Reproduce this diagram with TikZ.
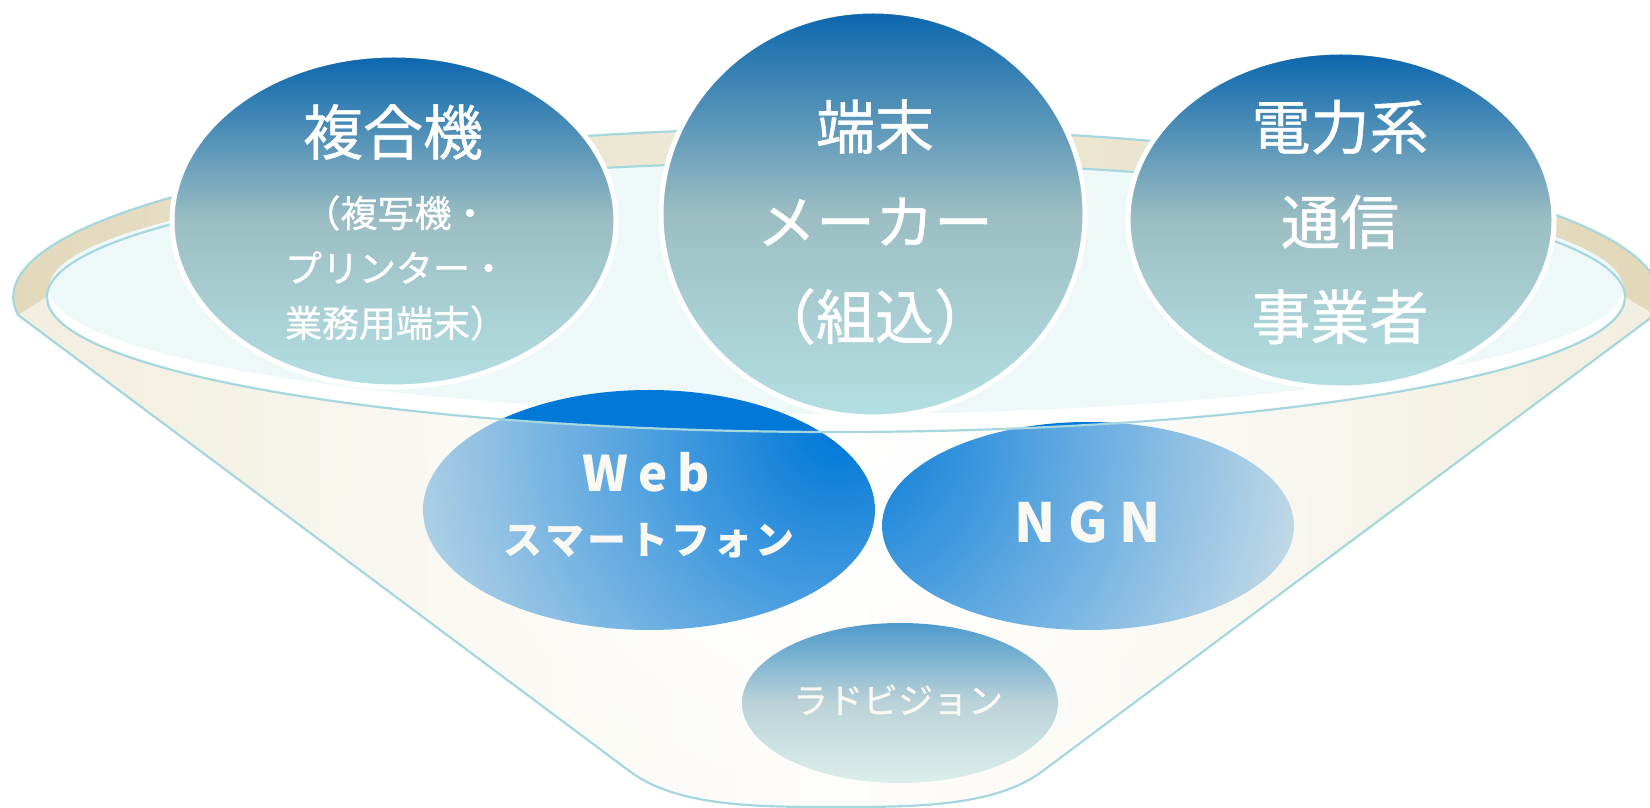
\documentclass[tikz,border=0pt]{standalone}
\usepackage{fontspec}
\setmainfont{Noto Sans CJK JP}
\newfontfamily\jpmed{Noto Sans CJK JP}[FakeBold=0.8]
\usetikzlibrary{shapes.geometric,fadings}

\definecolor{blueTop}{HTML}{0B66AD}
\definecolor{blueMid}{HTML}{9CBEC3}
\definecolor{blueBot}{HTML}{B4DFE2}
\definecolor{webBlue}{HTML}{0078D7}
\definecolor{rimLine}{HTML}{A6D7DF}
\definecolor{innerFill}{HTML}{EEF8F8}
\definecolor{bandEdge}{HTML}{D3C498}
\definecolor{bandMid}{HTML}{F0ECDB}
\definecolor{bodyA}{HTML}{D6C89F}
\definecolor{bodyB}{HTML}{E0D4B2}
\definecolor{bodyC}{HTML}{F2EEE0}
\definecolor{bodyD}{HTML}{FCFBF7}
\definecolor{radTop}{HTML}{4E9ACC}
\definecolor{radMid}{HTML}{BBD3D8}
\definecolor{radBot}{HTML}{DCEEEA}
\definecolor{labelWhite}{HTML}{FAF8F2}

\pgfdeclarehorizontalshading{bodyshade}{100bp}{color(0bp)=(bodyA); color(10bp)=(bodyB); color(25bp)=(bodyC); color(50bp)=(bodyD); color(75bp)=(bodyC); color(90bp)=(bodyB); color(100bp)=(bodyA)}
\pgfdeclarehorizontalshading{bandshade}{100bp}{color(0bp)=(bandEdge); color(50bp)=(bandMid); color(100bp)=(bandEdge)}
\tikzfading[name=bodyfade, inner color=transparent!100, outer color=transparent!0]

\begin{document}
\begin{tikzpicture}[x=1pt,y=1pt,
  blob/.style={ellipse, fill=webBlue, draw=none, inner sep=0pt, outer sep=0pt},
  topblob/.style={ellipse, draw=white, line width=5pt, top color=blueTop, bottom color=blueBot, middle color=blueMid, inner sep=0pt},
  radblob/.style={ellipse, draw=none, top color=radTop, bottom color=radBot, middle color=radMid, inner sep=0pt},
  toptext/.style={text=white, inner sep=0pt},
  wtext/.style={text=labelWhite, inner sep=0pt},
  radtext/.style={text=labelWhite, inner sep=0pt},
  rim/.style={draw=rimLine, line width=2.2pt}]
\useasboundingbox (0,0) rectangle (1650,808);

% rim band (upper part of outer ellipse down to the inner lower arc)
\shade[shading=bandshade] (18,493)
  arc[start angle=186.1, end angle=-6.1, x radius=823, y radius=169]
  -- (1625,511) arc[start angle=0, end angle=-180, x radius=789, y radius=135] -- cycle;
% inner ellipse
\fill[white] (836,511) ellipse [x radius=789, y radius=135];
\fill[innerFill] (836,520) ellipse [x radius=787, y radius=126];

% blue ellipses under the funnel body
\node[blob, minimum width=452pt, minimum height=240pt] (web) at (649,298) {};
\node[blob, minimum width=412pt, minimum height=208pt] (ngn) at (1088,282) {};

% funnel body overlay
\shade[shading=bodyshade, path fading=bodyfade, fit fading=false,
       fading transform={shift={(836,378)},scale=24}]
  (18,493) -- (632,35) .. controls (680,1) and (760,1) .. (836,1)
  .. controls (912,1) and (992,1) .. (1040,35) -- (1654,493) -- (1625,511)
  arc[start angle=0, end angle=-180, x radius=789, y radius=135] -- cycle;

% lower ellipse
\node[radblob, minimum width=316pt, minimum height=160pt] (rad) at (900,105) {};

% outlines
\draw[rim] (836,511) ellipse [x radius=789, y radius=135];
\draw[rim] (632,35) -- (18,493)
  arc[start angle=186.1, end angle=-6.1, x radius=823, y radius=169]
  -- (1040,35) .. controls (992,1) and (912,1) .. (836,1)
  .. controls (760,1) and (680,1) .. (632,35);

% top ellipses
\node[topblob, minimum width=444pt, minimum height=332pt] (fk) at (394,587) {};
\node[topblob, minimum width=424pt, minimum height=406pt] (tm) at (873,594) {};
\node[topblob, minimum width=426pt, minimum height=336pt] (dr) at (1341,588) {};

% texts
\node[toptext, font=\jpmed\fontsize{60}{60}\selectfont] (fkt) at (393,676) {複合機};
\node[toptext, font=\jpmed\fontsize{37}{55}\selectfont, align=center] (fks) at (396,540) {（複写機・\\プリンター・\\業務用端末）};
\node[toptext, font=\jpmed\fontsize{59}{95}\selectfont, align=center] (tmt) at (875,586) {端末\\メーカー\\（組込）};
\node[toptext, font=\jpmed\fontsize{59}{95}\selectfont, align=center] (drt) at (1340,586) {電力系\\通信\\事業者};

\node[wtext, font=\bfseries\fontsize{49}{49}\selectfont] (webt) at (646,336) {W\hspace{10pt}e\hspace{10pt}b};
\node[wtext, font=\bfseries\fontsize{39}{39}\selectfont] (webs) at (649,267) {ス\hspace{3pt}マ\hspace{3pt}ー\hspace{3pt}ト\hspace{3pt}フ\hspace{3pt}ォ\hspace{3pt}ン};
\node[wtext, font=\bfseries\fontsize{54}{54}\selectfont] (ngnt) at (1088,286) {N\hspace{12pt}G\hspace{12pt}N};
\node[radtext, font=\jpmed\fontsize{35}{35}\selectfont] (radt) at (898,108) {ラドビジョン};
\end{tikzpicture}
\end{document}
